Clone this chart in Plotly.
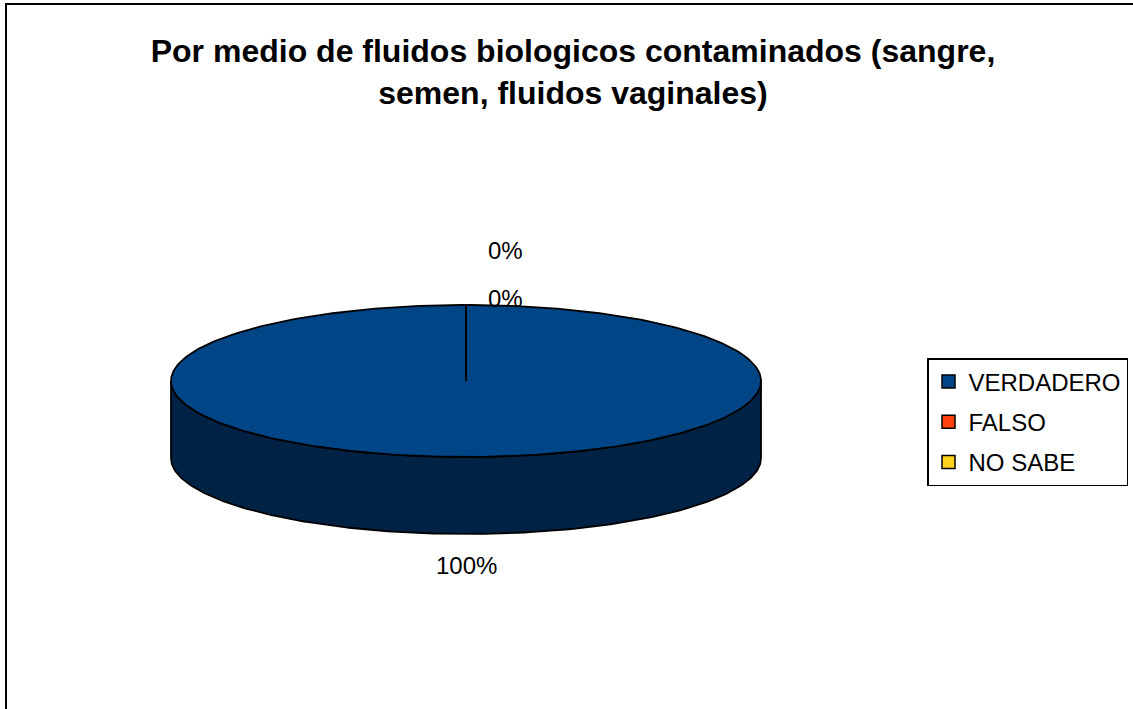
import numpy as np
import plotly.graph_objects as go

# datos del grafico
categorias = ['VERDADERO', 'FALSO', 'NO SABE']
porcentajes = [100, 0, 0]
etiquetas = ['100%', '0%', '0%']

colores = ['#004586', '#ff420e', '#ffd320']
colores_lado = ['#002244', '#80210a', '#806a10']

titulo = 'Por medio de fluidos biologicos contaminados (sangre,<br>semen, fluidos vaginales)'

W, H = 1133, 709
# geometria del pastel 3D (pixeles)
cx, cy = 466, 381
a, b = 295, 76
prof = 77


def arco(t0, t1, dy=0):
    # angulos en grados, sentido horario desde las 12
    n = max(int(abs(t1 - t0)) + 2, 2)
    t = np.radians(np.linspace(t0, t1, n))
    return cx + a * np.sin(t), cy - b * np.cos(t) + dy


fig = go.Figure()

total = sum(porcentajes)
inicio = 0
tramos = []
for v in porcentajes:
    ang = 360 * v / total
    tramos.append((inicio, inicio + ang))
    inicio += ang

# caras laterales (solo la mitad frontal, 90..270)
for (t0, t1), col in zip(tramos, colores_lado):
    s0, s1 = max(t0, 90), min(t1, 270)
    if s1 <= s0:
        continue
    xs, ys = arco(s0, s1)
    xb, yb = arco(s1, s0, prof)
    fig.add_trace(go.Scatter(
        x=list(xs) + list(xb) + [xs[0]], y=list(ys) + list(yb) + [ys[0]],
        mode='lines', fill='toself', fillcolor=col,
        line=dict(color='black', width=1.8), showlegend=False, hoverinfo='skip'))

# caras superiores
for (t0, t1), col, cat in zip(tramos, colores, categorias):
    xs, ys = arco(t0, t1)
    fig.add_trace(go.Scatter(
        x=[cx] + list(xs) + [cx], y=[cy] + list(ys) + [cy],
        mode='lines', fill='toself', fillcolor=col,
        line=dict(color='black', width=1.8), showlegend=False,
        name=cat, hoverinfo='name'))

# leyenda
for cat, col in zip(categorias, colores):
    fig.add_trace(go.Scatter(
        x=[None], y=[None], mode='markers', name=cat, legendgroup=cat,
        marker=dict(symbol='square', size=13, color=col,
                    line=dict(color='black', width=1.5))))

# etiquetas de porcentaje
desplaz = [(0, 31), (39, -7), (39, -55)]
for (t0, t1), txt, (dx, dy) in zip(tramos, etiquetas, desplaz):
    mid = np.radians((t0 + t1) / 2)
    x = cx + a * np.sin(mid)
    y = cy - b * np.cos(mid)
    if np.cos(mid) < 0:
        y += prof
    fig.add_annotation(x=x + dx, y=y + dy, text=txt, showarrow=False,
                       font=dict(size=24, color='black'))

# marco del grafico
fig.add_shape(type='rect', x0=6, y0=4, x1=W + 20, y1=H + 20,
              line=dict(color='black', width=2))

fig.update_layout(
    width=W, height=H,
    margin=dict(l=0, r=0, t=0, b=0),
    paper_bgcolor='white', plot_bgcolor='white',
    font=dict(family='Arial, Liberation Sans, sans-serif', color='black'),
    title=dict(text='<b>' + titulo + '</b>', x=573 / W, xanchor='center',
               y=1 - 62 / H, yanchor='middle',
               font=dict(size=32, color='black')),
    xaxis=dict(range=[0, W], visible=False, fixedrange=True),
    yaxis=dict(range=[H, 0], visible=False, fixedrange=True),
    legend=dict(x=927 / W, y=1 - 358 / H, xanchor='left', yanchor='top',
                bordercolor='black', borderwidth=1.5, bgcolor='white',
                font=dict(size=24), tracegroupgap=6),
    showlegend=True,
)

fig.write_html('out.html', config={'displayModeBar': False},
               post_script="document.body.style.margin='0';")
